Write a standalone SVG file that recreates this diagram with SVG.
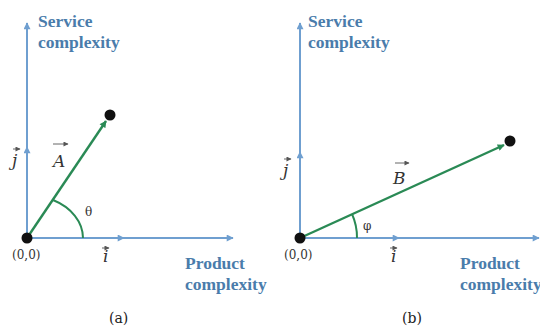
<svg xmlns="http://www.w3.org/2000/svg" width="540" height="329" viewBox="0 0 540 329">
<defs>
<marker id="ab" viewBox="0 0 10 10" refX="9" refY="5" markerWidth="8" markerHeight="7" markerUnits="userSpaceOnUse" orient="auto"><path d="M0,0 L10,5 L0,10 z" fill="#6f9fd0"/></marker>
<marker id="ag" viewBox="0 0 10 10" refX="9" refY="5" markerWidth="8" markerHeight="7" markerUnits="userSpaceOnUse" orient="auto"><path d="M0,0 L10,5 L0,10 z" fill="#2a8a55"/></marker>
<marker id="as" viewBox="0 0 10 10" refX="9" refY="5" markerWidth="6" markerHeight="5" markerUnits="userSpaceOnUse" orient="auto"><path d="M0,0 L10,5 L0,10 z" fill="#555"/></marker>
</defs>
<style>
.ax{stroke:#6f9fd0;stroke-width:2;fill:none}
.vec{stroke:#2a8a55;stroke-width:2.4;fill:none}
.arc{stroke:#2a8a55;stroke-width:2;fill:none}
.lbl{font-family:"Liberation Serif",serif;font-weight:bold;font-size:17.5px;fill:#4a7cab}
.t{font-family:"DejaVu Serif",serif;font-size:12px;fill:#333}
.v{font-family:"DejaVu Serif",serif;font-style:italic;font-size:17px;fill:#333}
.sm{stroke:#555;stroke-width:0.9;fill:none}
.cap{font-family:"DejaVu Serif",serif;font-size:14px;fill:#222}
</style>
<g id="connectors">
<line class="ax" x1="27" y1="238" x2="27" y2="23" marker-end="url(#ab)"/>
<line class="ax" x1="27" y1="238" x2="233" y2="238" marker-end="url(#ab)"/>
<line class="ax" x1="27" y1="170" x2="27" y2="147" marker-end="url(#ab)"/>
<line class="ax" x1="100" y1="238" x2="124" y2="238" marker-end="url(#ab)"/>
<line class="vec" x1="27" y1="238" x2="106" y2="121" marker-end="url(#ag)"/>
<path class="arc" d="M83,238 A56,43 0 0 0 53,200"/>
<line class="ax" x1="300" y1="238" x2="300" y2="23" marker-end="url(#ab)"/>
<line class="ax" x1="300" y1="238" x2="539" y2="238" marker-end="url(#ab)"/>
<line class="ax" x1="300" y1="175" x2="300" y2="152" marker-end="url(#ab)"/>
<line class="ax" x1="375" y1="238" x2="399" y2="238" marker-end="url(#ab)"/>
<line class="vec" x1="300" y1="238" x2="504" y2="145" marker-end="url(#ag)"/>
<path class="arc" d="M357,238 A57,57 0 0 0 352,214"/>
</g>
<g id="node-origin-a"><circle cx="27" cy="238" r="5.5" fill="#111"/><text class="t" x="12" y="259">(0,0)</text></g>
<g id="node-A"><circle cx="110" cy="115" r="5.5" fill="#111"/>
<text class="v" x="53" y="167">A</text><line class="sm" x1="53" y1="144" x2="68" y2="144" marker-end="url(#as)"/></g>
<g id="label-j-a"><text class="v" x="12" y="166">j</text><line class="sm" x1="13" y1="149" x2="20" y2="149" marker-end="url(#as)"/></g>
<g id="label-i-a"><text class="v" x="103" y="262">i</text><line class="sm" x1="102" y1="248" x2="109" y2="248" marker-end="url(#as)"/></g>
<g id="label-theta"><text class="t" x="85" y="216">θ</text></g>
<g id="label-service-a"><text class="lbl" x="38" y="27">Service</text><text class="lbl" x="38" y="48">complexity</text></g>
<g id="label-product-a"><text class="lbl" x="185" y="269">Product</text><text class="lbl" x="185" y="290">complexity</text></g>
<text class="cap" x="109" y="323">(a)</text>
<g id="node-origin-b"><circle cx="300" cy="238" r="5.5" fill="#111"/><text class="t" x="284" y="259">(0,0)</text></g>
<g id="node-B"><circle cx="510" cy="141" r="5.5" fill="#111"/>
<text class="v" x="393" y="184">B</text><line class="sm" x1="395" y1="163" x2="409" y2="163" marker-end="url(#as)"/></g>
<g id="label-j-b"><text class="v" x="283" y="176">j</text><line class="sm" x1="284" y1="159" x2="291" y2="159" marker-end="url(#as)"/></g>
<g id="label-i-b"><text class="v" x="391" y="262">i</text><line class="sm" x1="390" y1="248" x2="397" y2="248" marker-end="url(#as)"/></g>
<g id="label-phi"><text class="t" x="363" y="230">φ</text></g>
<g id="label-service-b"><text class="lbl" x="308" y="27">Service</text><text class="lbl" x="308" y="48">complexity</text></g>
<g id="label-product-b"><text class="lbl" x="460" y="269">Product</text><text class="lbl" x="460" y="290">complexity</text></g>
<text class="cap" x="402" y="323">(b)</text>
</svg>
